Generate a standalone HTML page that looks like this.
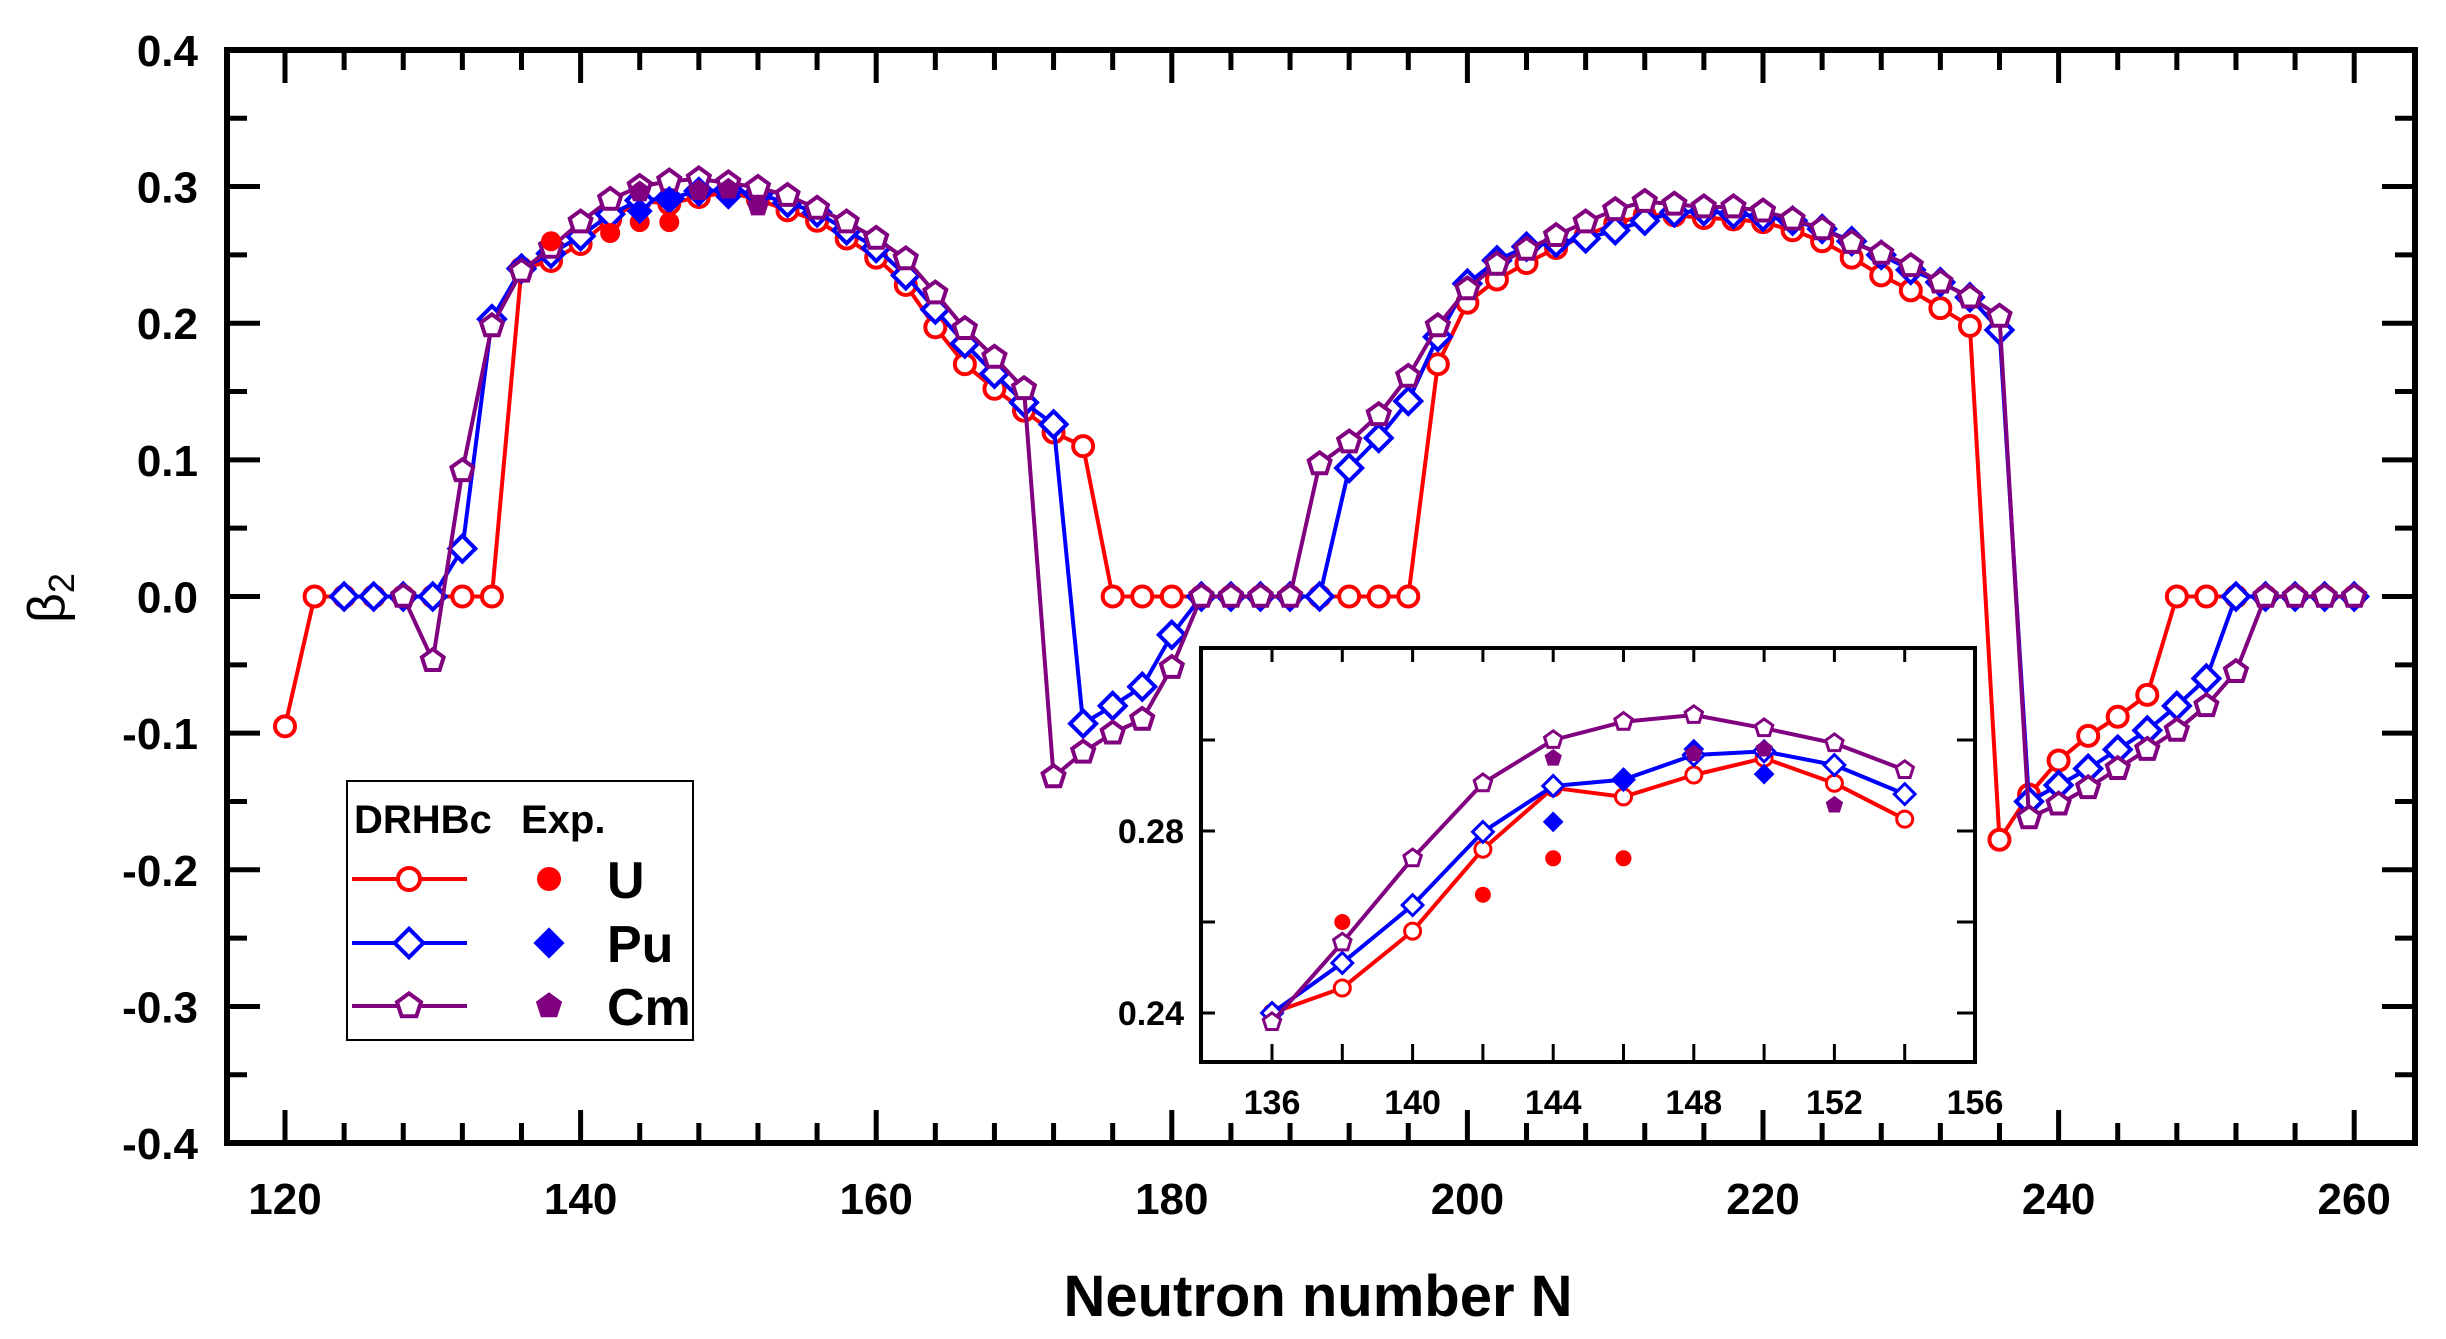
<!DOCTYPE html>
<html><head><meta charset="utf-8"><style>
html,body{margin:0;padding:0;background:#fff;}
svg{display:block;font-family:"Liberation Sans",Arial,sans-serif;font-weight:bold;}
</style></head><body>
<svg id="chart" width="2446" height="1339" viewBox="0 0 2446 1339" xmlns="http://www.w3.org/2000/svg">
<rect width="2446" height="1339" fill="#fff"/>
<g id="main"></g>
<g id="inset"></g>
<g id="legend"></g>
</svg>
<script>
// ---------- data ----------
const nU = [120,122,124,126,128,130,132,134,136,138,140,142,144,146,148,150,152,154,156,158,160,162,164,166,168,170,172,174,176,178,180,182,184,186,188,190,192,194,196,198,200,202,204,206,208,210,212,214,216,218,220,222,224,226,228,230,232,234,236,238,240,242,244,246,248,250,252,254,256,258,260];
const betaU = [-0.095,0,0,0,0,0,0,0,0.24,0.2455,0.258,0.276,0.2895,0.2875,0.2923,0.296,0.2905,0.2826,0.275,0.262,0.248,0.228,0.197,0.17,0.152,0.136,0.12,0.11,0,0,0,0,0,0,0,0,0,0,0,0.170,0.215,0.232,0.244,0.255,0.264,0.273,0.279,0.279,0.277,0.276,0.274,0.268,0.26,0.248,0.235,0.224,0.211,0.198,-0.178,-0.145,-0.12,-0.102,-0.088,-0.072,0,0,0,0,0,0,0];
const nPu = [124,126,128,130,132,134,136,138,140,142,144,146,148,150,152,154,156,158,160,162,164,166,168,170,172,174,176,178,180,182,184,186,188,190,192,194,196,198,200,202,204,206,208,210,212,214,216,218,220,222,224,226,228,230,232,234,236,238,240,242,244,246,248,250,252,254,256,258,260];
const betaPu = [0,0,0,0,0.035,0.203,0.24,0.251,0.2637,0.2798,0.2899,0.2913,0.2967,0.2975,0.2945,0.2881,0.281,0.268,0.255,0.235,0.21,0.185,0.163,0.142,0.126,-0.093,-0.08,-0.066,-0.028,0,0,0,0,0,0.094,0.116,0.143,0.19,0.229,0.246,0.256,0.259,0.262,0.268,0.275,0.281,0.282,0.28,0.278,0.275,0.269,0.26,0.25,0.239,0.23,0.219,0.195,-0.15,-0.138,-0.126,-0.112,-0.098,-0.08,-0.06,0,0,0,0,0];
const nCm = [128,130,132,134,136,138,140,142,144,146,148,150,152,154,156,158,160,162,164,166,168,170,172,174,176,178,180,182,184,186,188,190,192,194,196,198,200,202,204,206,208,210,212,214,216,218,220,222,224,226,228,230,232,234,236,238,240,242,244,246,248,250,252,254,256,258,260];
const betaCm = [0,-0.047,0.092,0.198,0.238,0.2555,0.274,0.2905,0.300,0.304,0.3055,0.3026,0.2993,0.2934,0.284,0.274,0.262,0.247,0.222,0.196,0.175,0.152,-0.132,-0.114,-0.1,-0.09,-0.052,0,0,0,0,0.097,0.113,0.133,0.161,0.198,0.225,0.243,0.254,0.264,0.274,0.283,0.289,0.287,0.285,0.285,0.282,0.276,0.269,0.259,0.251,0.242,0.23,0.219,0.205,-0.162,-0.152,-0.14,-0.126,-0.112,-0.098,-0.08,-0.055,0,0,0,0];
const expNU = [138,142,144,146];
const expBU = [0.260,0.266,0.274,0.274];
const expNPu = [144,146,148,150];
const expBPu = [0.282,0.291,0.298,0.2925];
const expNCm = [144,148,150,152];
const expBCm = [0.296,0.297,0.298,0.2857];
const xTicks = [120,140,160,180,200,220,240,260];
const yTicks = [0.4,0.3,0.2,0.1,0.0,-0.1,-0.2,-0.3,-0.4];
const insetXTicks = [136,140,144,148,152,156];
const insetYTicks = [0.24,0.28];

const NS = "http://www.w3.org/2000/svg";
function mk(tag, attrs, parent){const e=document.createElementNS(NS,tag);for(const k in attrs)e.setAttribute(k,attrs[k]);parent.appendChild(e);return e;}

const PL=227,PR=2415,PT=50,PB=1143;
const xs = n => 285 + (n-120)*14.78;
const ys = v => 596.5 - v*1366.5;
const IL=1201,IR=1975,IT=648,IB=1062;
const ixs = n => 1272 + (n-136)*35.15;
const iys = v => 1013 - (v-0.24)*4550;

const COL = {U:"#ff0000",Pu:"#0000ff",Cm:"#800080"};

function marker(g, type, x, y, r, color, filled, sw){
  let el;
  if(type==="U"){ el=mk("circle",{cx:x,cy:y,r:r},g); }
  else if(type==="Pu"){ const d=r*1.3; el=mk("polygon",{points:`${x},${y-d} ${x+d},${y} ${x},${y+d} ${x-d},${y}`},g); }
  else { const R=r*1.15; let p=[]; for(let i=0;i<5;i++){const a=-Math.PI/2+i*2*Math.PI/5;p.push((x+R*Math.cos(a)).toFixed(1)+","+(y+R*Math.sin(a)).toFixed(1));} el=mk("polygon",{points:p.join(" ")},g); }
  el.setAttribute("fill", filled?color:"#fff");
  el.setAttribute("stroke", color);
  el.setAttribute("stroke-width", filled?0:sw);
  return el;
}

function drawSeries(g, name, ns, vs, fx, fy, r, lw, sw, filter){
  const sg = mk("g",{},g);
  
  
  const pts=[];
  ns.forEach((n,i)=>{ if(!filter||filter(n)) pts.push([fx(n),fy(vs[i])]); });
  const pl = mk("polyline",{points:pts.map(p=>p[0].toFixed(1)+","+p[1].toFixed(1)).join(" "),fill:"none",stroke:COL[name],"stroke-width":lw,"stroke-linejoin":"round"},sg);
  
  
  pts.forEach(p=>{
    const m = marker(sg,name,p[0],p[1],r,COL[name],false,sw);
    
    
  });
}
function drawExp(g, name, ns, vs, fx, fy, r){
  ns.forEach((n,i)=>{
    const m = marker(g,name,fx(n),fy(vs[i]),r,COL[name],true,0);
    
    
  });
}

const main = document.getElementById("main");
for(let n=120;n<=260;n+=4){
  const major = (n%20===0);
  const L = major?33:20;
  const x=xs(n);
  mk("line",{x1:x,y1:PT,x2:x,y2:PT+L,stroke:"#000","stroke-width":5},main);
  mk("line",{x1:x,y1:PB,x2:x,y2:PB-L,stroke:"#000","stroke-width":5},main);
}
for(let k=-8;k<=8;k++){
  const v=k*0.05, major=(k%2===0), L=major?33:20, y=ys(v);
  mk("line",{x1:PL,y1:y,x2:PL+L,y2:y,stroke:"#000","stroke-width":5},main);
  mk("line",{x1:PR,y1:y,x2:PR-L,y2:y,stroke:"#000","stroke-width":5},main);
}
xTicks.forEach(n=>{
  const t=mk("text",{x:xs(n),y:1214,"font-size":44,"text-anchor":"middle"},main);
  t.textContent=n;
  
  
});
yTicks.forEach(v=>{
  const t=mk("text",{x:198,y:ys(v)+16,"font-size":44,"text-anchor":"end"},main);
  t.textContent=(v<0?"-":"")+Math.abs(v).toFixed(1);
  
  
});
const xt=mk("text",{x:1318,y:1316,"font-size":58,"text-anchor":"middle"},main);
xt.textContent="Neutron number N";


const yt=mk("text",{x:0,y:0,"font-size":52,"font-weight":"normal","text-anchor":"middle",transform:"translate(64,598) rotate(-90)"},main);
yt.innerHTML='β<tspan font-size="36" dy="10">2</tspan>';



drawSeries(main,"U",nU,betaU,xs,ys,10,4,4);
drawSeries(main,"Pu",nPu,betaPu,xs,ys,10,4,4);
drawSeries(main,"Cm",nCm,betaCm,xs,ys,10,4,4);
drawExp(main,"U",expNU,expBU,xs,ys,10);
drawExp(main,"Pu",expNPu,expBPu,xs,ys,10);
drawExp(main,"Cm",expNCm,expBCm,xs,ys,10);
const frame=mk("rect",{x:PL,y:PT,width:PR-PL,height:PB-PT,fill:"none",stroke:"#000","stroke-width":6},main);



const inset=document.getElementById("inset");


mk("rect",{x:IL,y:IT,width:IR-IL,height:IB-IT,fill:"#fff"},inset);
for(let n=136;n<=156;n+=2){
  const x=ixs(n);
  mk("line",{x1:x,y1:IT,x2:x,y2:IT+14,stroke:"#000","stroke-width":3},inset);
  mk("line",{x1:x,y1:IB,x2:x,y2:IB-18,stroke:"#000","stroke-width":3},inset);
}
[0.24,0.26,0.28,0.30].forEach(v=>{
  const y=iys(v);
  mk("line",{x1:IL,y1:y,x2:IL+14,y2:y,stroke:"#000","stroke-width":3},inset);
  mk("line",{x1:IR,y1:y,x2:IR-18,y2:y,stroke:"#000","stroke-width":3},inset);
});
insetXTicks.forEach(n=>{
  const t=mk("text",{x:ixs(n),y:1114,"font-size":34,"text-anchor":"middle"},inset);
  t.textContent=n;
  
  
});
insetYTicks.forEach(v=>{
  const t=mk("text",{x:1184,y:iys(v)+12,"font-size":34,"text-anchor":"end"},inset);
  t.textContent=v.toFixed(2);
  
  
});
const inr = n => n>=136 && n<=154;
drawSeries(inset,"U",nU,betaU,ixs,iys,8,4,3,inr);
drawSeries(inset,"Pu",nPu,betaPu,ixs,iys,8,4,3,inr);
drawSeries(inset,"Cm",nCm,betaCm,ixs,iys,8,4,3,inr);
drawExp(inset,"U",expNU,expBU,ixs,iys,8);
drawExp(inset,"Pu",expNPu,expBPu,ixs,iys,8);
drawExp(inset,"Cm",expNCm,expBCm,ixs,iys,8);
mk("rect",{x:IL,y:IT,width:IR-IL,height:IB-IT,fill:"none",stroke:"#000","stroke-width":4},inset);

const lg=document.getElementById("legend");


mk("rect",{x:347,y:781,width:346,height:259,fill:"#fff",stroke:"#000","stroke-width":2},lg);
const h1=mk("text",{x:354,y:833,"font-size":40},lg); h1.textContent="DRHBc";


const h2=mk("text",{x:521,y:833,"font-size":40},lg); h2.textContent="Exp.";


[["U",879],["Pu",943],["Cm",1006]].forEach(([nm,y])=>{
  const e=mk("g",{},lg);
  
  
  mk("line",{x1:352,y1:y,x2:467,y2:y,stroke:COL[nm],"stroke-width":4},e);
  marker(e,nm,409,y,11,COL[nm],false,4);
  marker(e,nm,549,y,12,COL[nm],true,0);
  const t=mk("text",{x:607,y:y+19,"font-size":52},e); t.textContent=nm;
});
</script>
</body></html>
